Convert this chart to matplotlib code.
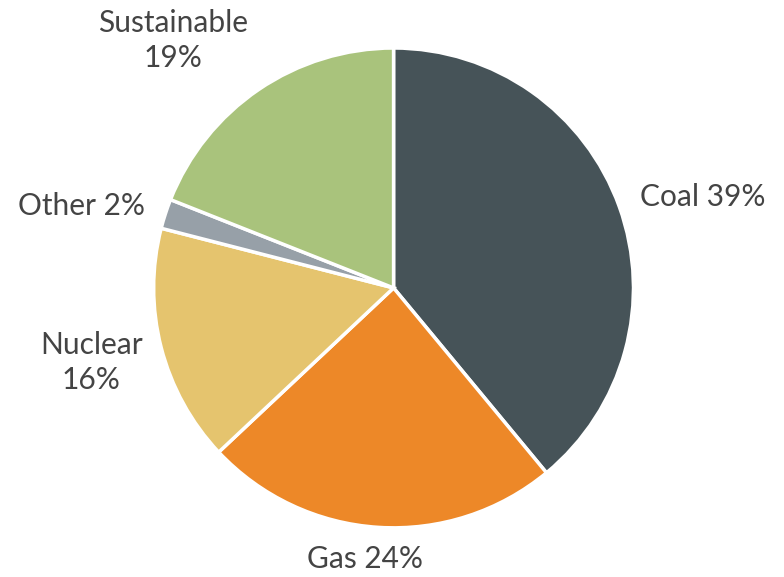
import numpy as np
import matplotlib
matplotlib.use("Agg")
import matplotlib.pyplot as plt

# Energy mix shares, clockwise from 12 o'clock
sources = ["Coal", "Gas", "Nuclear", "Other", "Sustainable"]
shares = [39, 24, 16, 2, 19]
colors = ["#465358", "#ED8828", "#E5C46E", "#97A0A8", "#A9C37C"]

# label placement in data units (pie radius = 1)
label_pos = {
	"Coal": (1.29, 0.38),
	"Gas": (-0.12, -1.13),
	"Nuclear": (-1.26, -0.31),
	"Other": (-1.30, 0.34),
	"Sustainable": (-0.92, 1.03),
}
two_line = {"Nuclear", "Sustainable"}

plt.rcParams['font.family'] = ['Lato', 'DejaVu Sans']

fig = plt.figure(figsize=(7.84, 5.77), dpi=100)
ax = fig.add_axes([0.196, 0.085, 0.612, 0.832])

ax.pie(shares, colors=colors, startangle=90, counterclock=False,
	wedgeprops=dict(edgecolor="white", linewidth=2.5))

for name, val in zip(sources, shares):
	sep = "\n" if name in two_line else " "
	x, y = label_pos[name]
	ax.text(x, y, "{}{}{}%".format(name, sep, val), ha="center", va="center",
		fontsize=21.5, color="#444444", linespacing=1.3)

ax.set_xlim(-1, 1)
ax.set_ylim(-1, 1)
ax.set_aspect("equal")
ax.axis("off")

fig.savefig("out.png", dpi=100)
